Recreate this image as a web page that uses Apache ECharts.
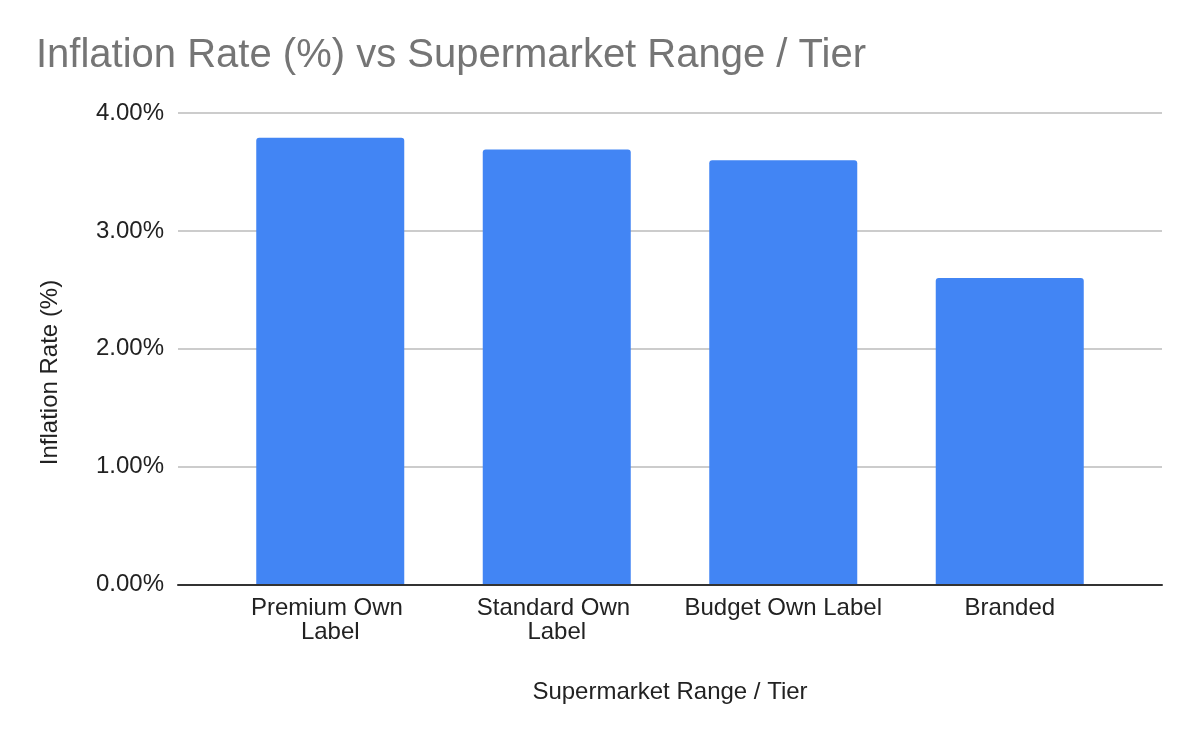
<!DOCTYPE html>
<html>
<head>
<meta charset="utf-8">
<title>Inflation Rate (%) vs Supermarket Range / Tier</title>
<script src="https://cdn.jsdelivr.net/npm/echarts@6/dist/echarts.min.js"></script>
<style>
  html, body { margin: 0; padding: 0; background: #fff; }
  #chart { width: 1200px; height: 742px; }
</style>
</head>
<body>
<div id="chart"></div>
<script>
const categories = ['Premium Own Label', 'Standard Own Label', 'Budget Own Label', 'Branded'];
const inflationRate = [3.79, 3.69, 3.6, 2.6];
const yTicks = { min: 0, max: 4, interval: 1 };

const FONT = '"Liberation Sans", Arial, sans-serif';
const TEXT = '#222222';

// Plot frame (grid lines, axis line) is wider than the band the bars sit in,
// like the sheets chart it copies, so two grids share one y scale.
const frame = { left: 178, right: 38, top: 113, bottom: 157.5 };
const bars = { left: 217, right: 77, top: 113, bottom: 157.5 };

const chart = echarts.init(document.getElementById('chart'), null, { renderer: 'canvas' });

chart.setOption({
  animation: false,
  backgroundColor: '#ffffff',
  title: {
    text: 'Inflation Rate (%) vs Supermarket Range / Tier',
    left: 36,
    top: 36,
    padding: 0,
    textStyle: { fontFamily: FONT, fontSize: 40, fontWeight: 'normal', color: '#757575', lineHeight: 40 },
  },
  grid: [
    { ...frame, containLabel: false },
    { ...bars, containLabel: false },
  ],
  xAxis: [
    {
      gridIndex: 0,
      type: 'value',
      min: 0,
      max: 1,
      z: 5,
      axisLine: { show: true, onZero: false, lineStyle: { color: '#333333', width: 2 } },
      axisTick: { show: false },
      axisLabel: { show: false },
      splitLine: { show: false },
    },
    {
      gridIndex: 1,
      type: 'category',
      data: categories,
      axisLine: { show: false },
      axisTick: { show: false },
      axisLabel: {
        interval: 0,
        margin: 12,
        width: 210,
        overflow: 'break',
        lineHeight: 24,
        fontFamily: FONT,
        fontSize: 24,
        color: TEXT,
      },
    },
  ],
  yAxis: [
    {
      gridIndex: 0,
      type: 'value',
      ...yTicks,
      axisLine: { show: false },
      axisTick: { show: false },
      axisLabel: {
        margin: 14,
        fontFamily: FONT,
        fontSize: 24,
        color: TEXT,
        formatter: (v) => `${v.toFixed(2)}%`,
      },
      splitLine: { show: true, lineStyle: { color: '#cccccc', width: 2 } },
    },
    {
      gridIndex: 1,
      type: 'value',
      ...yTicks,
      show: false,
      splitLine: { show: false },
    },
  ],
  graphic: [
    {
      type: 'text',
      x: 670,
      y: 692,
      style: {
        text: 'Supermarket Range / Tier',
        align: 'center',
        verticalAlign: 'middle',
        font: `24px ${FONT}`,
        fill: TEXT,
      },
    },
    {
      type: 'text',
      x: 50,
      y: 372.5,
      rotation: Math.PI / 2,
      style: {
        text: 'Inflation Rate (%)',
        align: 'center',
        verticalAlign: 'middle',
        font: `24px ${FONT}`,
        fill: TEXT,
      },
    },
  ],
  series: [
    {
      name: 'Inflation Rate (%)',
      type: 'bar',
      xAxisIndex: 1,
      yAxisIndex: 1,
      data: inflationRate,
      barWidth: 148,
      itemStyle: { color: '#4285F4', borderRadius: [3, 3, 0, 0] },
    },
  ],
});
</script>
</body>
</html>
